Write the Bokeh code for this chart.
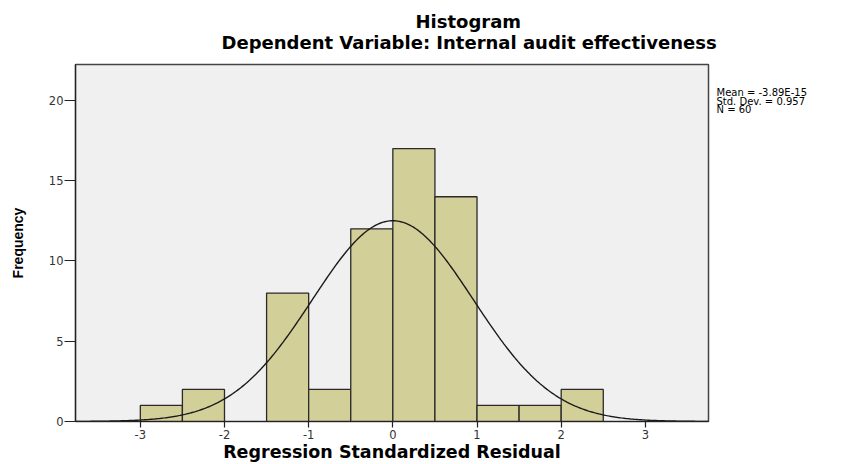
import numpy as np
from bokeh.plotting import figure
from bokeh.models import ColumnDataSource, FixedTicker, Title, LinearAxis, Range1d
from bokeh.embed import file_html
from bokeh.resources import INLINE

# ---- data ----
bin_left = [-3.0, -2.5, -2.0, -1.5, -1.0, -0.5, 0.0, 0.5, 1.0, 1.5, 2.0]
bin_right = [-2.5, -2.0, -1.5, -1.0, -0.5, 0.0, 0.5, 1.0, 1.5, 2.0, 2.5]
counts = [1, 2, 0, 8, 2, 12, 17, 14, 1, 1, 2]
x_ticks = [-3, -2, -1, 0, 1, 2, 3]
y_ticks = [0, 5, 10, 15, 20]
stat_mean = -3.89e-15
stat_sd = 0.957
stat_n = 60
stat_lines = ["Mean = -3.89E-15", "Std. Dev. = 0.957", "N = 60"]
title_text = "Histogram"
subtitle_text = "Dependent Variable: Internal audit effectiveness"
x_label = "Regression Standardized Residual"
y_label = "Frequency"

x_lo, x_hi = -3.77, 3.75
y_lo, y_hi = 0, 22.24

FRAME_H = 358
p = figure(width=850, height=464, x_range=(x_lo, x_hi), y_range=(y_lo, y_hi),
           output_backend="svg", toolbar_location=None, title=None,
           min_border_left=75, min_border_right=142, min_border_top=64, min_border_bottom=42)

p.background_fill_color = "#f0f0f0"
p.border_fill_color = "white"
p.outline_line_color = "#444444"
p.outline_line_width = 1.5
p.xgrid.visible = False
p.ygrid.visible = False

# bars
keep = [i for i, c in enumerate(counts) if c > 0]
src = ColumnDataSource(dict(
    left=[bin_left[i] for i in keep],
    right=[bin_right[i] for i in keep],
    top=[counts[i] for i in keep],
    bottom=[0] * len(keep),
))
p.quad(left="left", right="right", top="top", bottom="bottom", source=src,
       fill_color="#d3cf98", line_color="#2a2a2a", line_width=1.3)

# fitted normal curve from the stated statistics
bw = bin_right[0] - bin_left[0]
xs = np.linspace(x_lo, x_hi, 400)
ys = stat_n * bw * np.exp(-0.5 * ((xs - stat_mean) / stat_sd) ** 2) / (stat_sd * np.sqrt(2 * np.pi))
p.line(xs, ys, line_color="#1a1a1a", line_width=1.4)

# axes
for ax in (p.xaxis, p.yaxis):
    ax.axis_line_color = "#222222"
    ax.axis_line_width = 1.2
    ax.major_tick_line_color = "#222222"
    ax.major_tick_line_width = 1.2
    ax.minor_tick_line_color = None
    ax.major_tick_in = 0
    ax.major_label_text_font = "DejaVu Sans"
    ax.major_label_text_font_size = "11.5px"
    ax.major_label_text_color = "#333333"
    ax.axis_label_text_color = "black"
    ax.axis_label_text_font_style = "bold"
p.xaxis.ticker = FixedTicker(ticks=x_ticks)
p.yaxis.ticker = FixedTicker(ticks=y_ticks)
p.xaxis.major_label_overrides = {t: str(t) for t in x_ticks}
p.yaxis.major_label_overrides = {t: str(t) for t in y_ticks}
p.xaxis.major_tick_out = 6
p.xaxis.major_label_standoff = 2
p.yaxis.major_tick_out = 11
p.yaxis.major_label_standoff = 1

p.xaxis.axis_label = x_label
p.xaxis.axis_label_text_font = "DejaVu Sans"
p.xaxis.axis_label_text_font_size = "17.5px"
p.xaxis.axis_label_standoff = 0

p.yaxis.axis_label = y_label
p.yaxis.axis_label_text_font = "Liberation Sans"
p.yaxis.axis_label_text_font_size = "14px"
p.yaxis.axis_label_standoff = 20

# statistics text shown to the right of the frame (a label-only axis in pixel units)
p.extra_y_ranges = {"stats": Range1d(0, FRAME_H)}
stat_pos = [FRAME_H - 28.5 - 8.5 * i for i in range(len(stat_lines))]
stats_axis = LinearAxis(y_range_name="stats", ticker=FixedTicker(ticks=stat_pos),
                        major_label_overrides={v: t for v, t in zip(stat_pos, stat_lines)},
                        axis_line_color=None, major_tick_line_color=None,
                        minor_tick_line_color=None, major_tick_out=0, major_tick_in=0,
                        major_label_standoff=8, major_label_text_font="DejaVu Sans",
                        major_label_text_font_size="10px", major_label_text_color="black")
p.add_layout(stats_axis, "right")

# titles: subtitle nearest the frame, main title outermost
sub = Title(text=subtitle_text, align="left", offset=146, standoff=23,
            text_font="DejaVu Sans", text_font_style="bold", text_font_size="18px",
            text_color="black")
main = Title(text=title_text, align="left", offset=340, standoff=-26,
             text_font="DejaVu Sans", text_font_style="bold", text_font_size="18px",
             text_color="black")
p.add_layout(sub, "above")
p.add_layout(main, "above")

open("out.html", "w").write(file_html(p, INLINE))
